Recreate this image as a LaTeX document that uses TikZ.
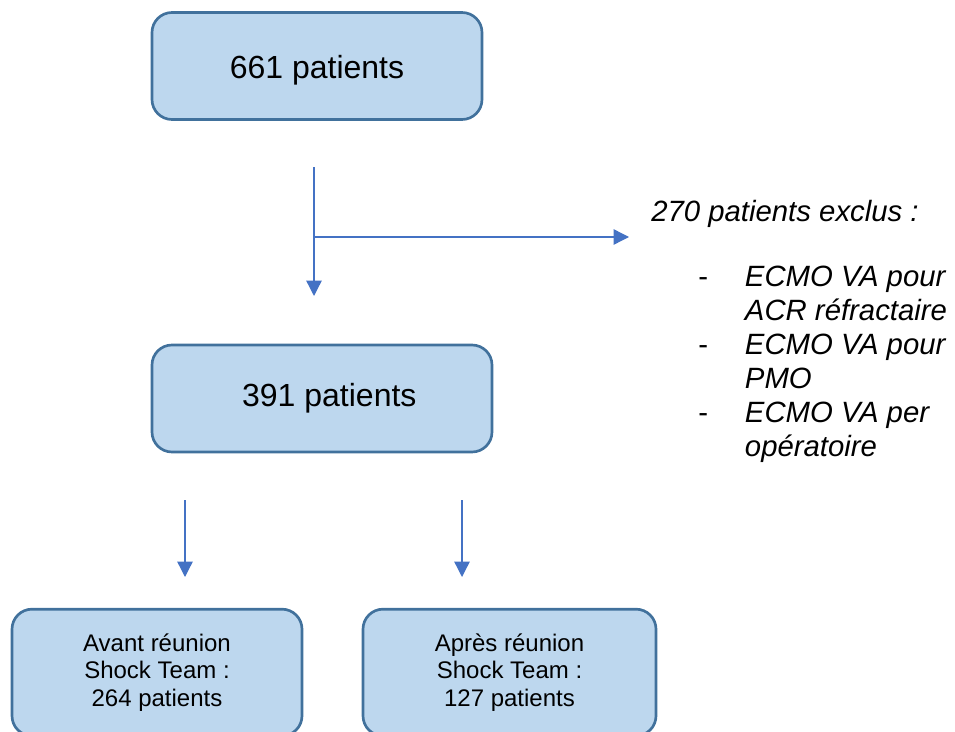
\documentclass[tikz,border=0pt]{standalone}
\usepackage{fontspec}
\setmainfont{Liberation Sans}
\usetikzlibrary{arrows.meta}
\definecolor{boxfill}{HTML}{BDD7EE}
\definecolor{boxdraw}{HTML}{41719C}
\definecolor{arrowc}{HTML}{4472C4}
\begin{document}
\begin{tikzpicture}[x=0.75pt,y=-0.75pt,
  box/.style={draw=boxdraw, fill=boxfill, line width=2pt, rounded corners=15pt, inner sep=0pt, align=center},
  bigtext/.style={font=\fontsize{24}{28}\selectfont},
  smalltext/.style={font=\fontsize{18}{20.6}\selectfont},
  conn/.style={draw=arrowc, line width=1pt, -{Triangle[length=11.5pt,width=11.5pt]}}]
\useasboundingbox (0,0) rectangle (955,731);
\clip (0,0) rectangle (955,731);

% boxes
\node[box, bigtext, text height=19pt, text depth=0pt, minimum width=247.5pt, minimum height=80.25pt] (b1) at (317,66) {661 patients};
\node[box, bigtext, minimum width=255pt, minimum height=80.25pt] (b2) at (322,398.5) {\hspace*{11pt}391 patients};
\node[box, smalltext, minimum width=217.5pt, minimum height=95pt] (b3) at (157,672.5) {Avant réunion\\Shock Team :\\264 patients};
\node[box, smalltext, minimum width=219.75pt, minimum height=95pt] (b4) at (509.5,672.5) {Après réunion\\Shock Team :\\127 patients};

% connector coordinates
\coordinate (a1s) at (314,167);
\coordinate (a1e) at (314,296);
\coordinate (br) at (314,237);
\coordinate (bre) at (629,237);
\coordinate (a3s) at (185,500);
\coordinate (a3e) at (185,577);
\coordinate (a4s) at (462,500);
\coordinate (a4e) at (462,577);

\draw[conn] (a1s) -- (a1e);
\draw[conn] (br) -- (bre);
\draw[conn] (a3s) -- (a3e);
\draw[conn] (a4s) -- (a4e);

% exclusion text
\node[anchor=base west, inner sep=0pt, font=\fontsize{22}{25.5}\selectfont\itshape] (excl) at (651,221.5) {270 patients exclus :};
\node[anchor=base west, inner sep=0pt, font=\fontsize{22}{25.5}\selectfont] (list) at (698,286.5)
  {\begin{tabular}[t]{@{}p{35pt}@{}l@{}}
   {\upshape -} & \itshape ECMO VA pour\\
    & \itshape ACR réfractaire\\
   {\upshape -} & \itshape ECMO VA pour\\
    & \itshape PMO\\
   {\upshape -} & \itshape ECMO VA per\\
    & \itshape opératoire
   \end{tabular}};
\end{tikzpicture}
\end{document}
